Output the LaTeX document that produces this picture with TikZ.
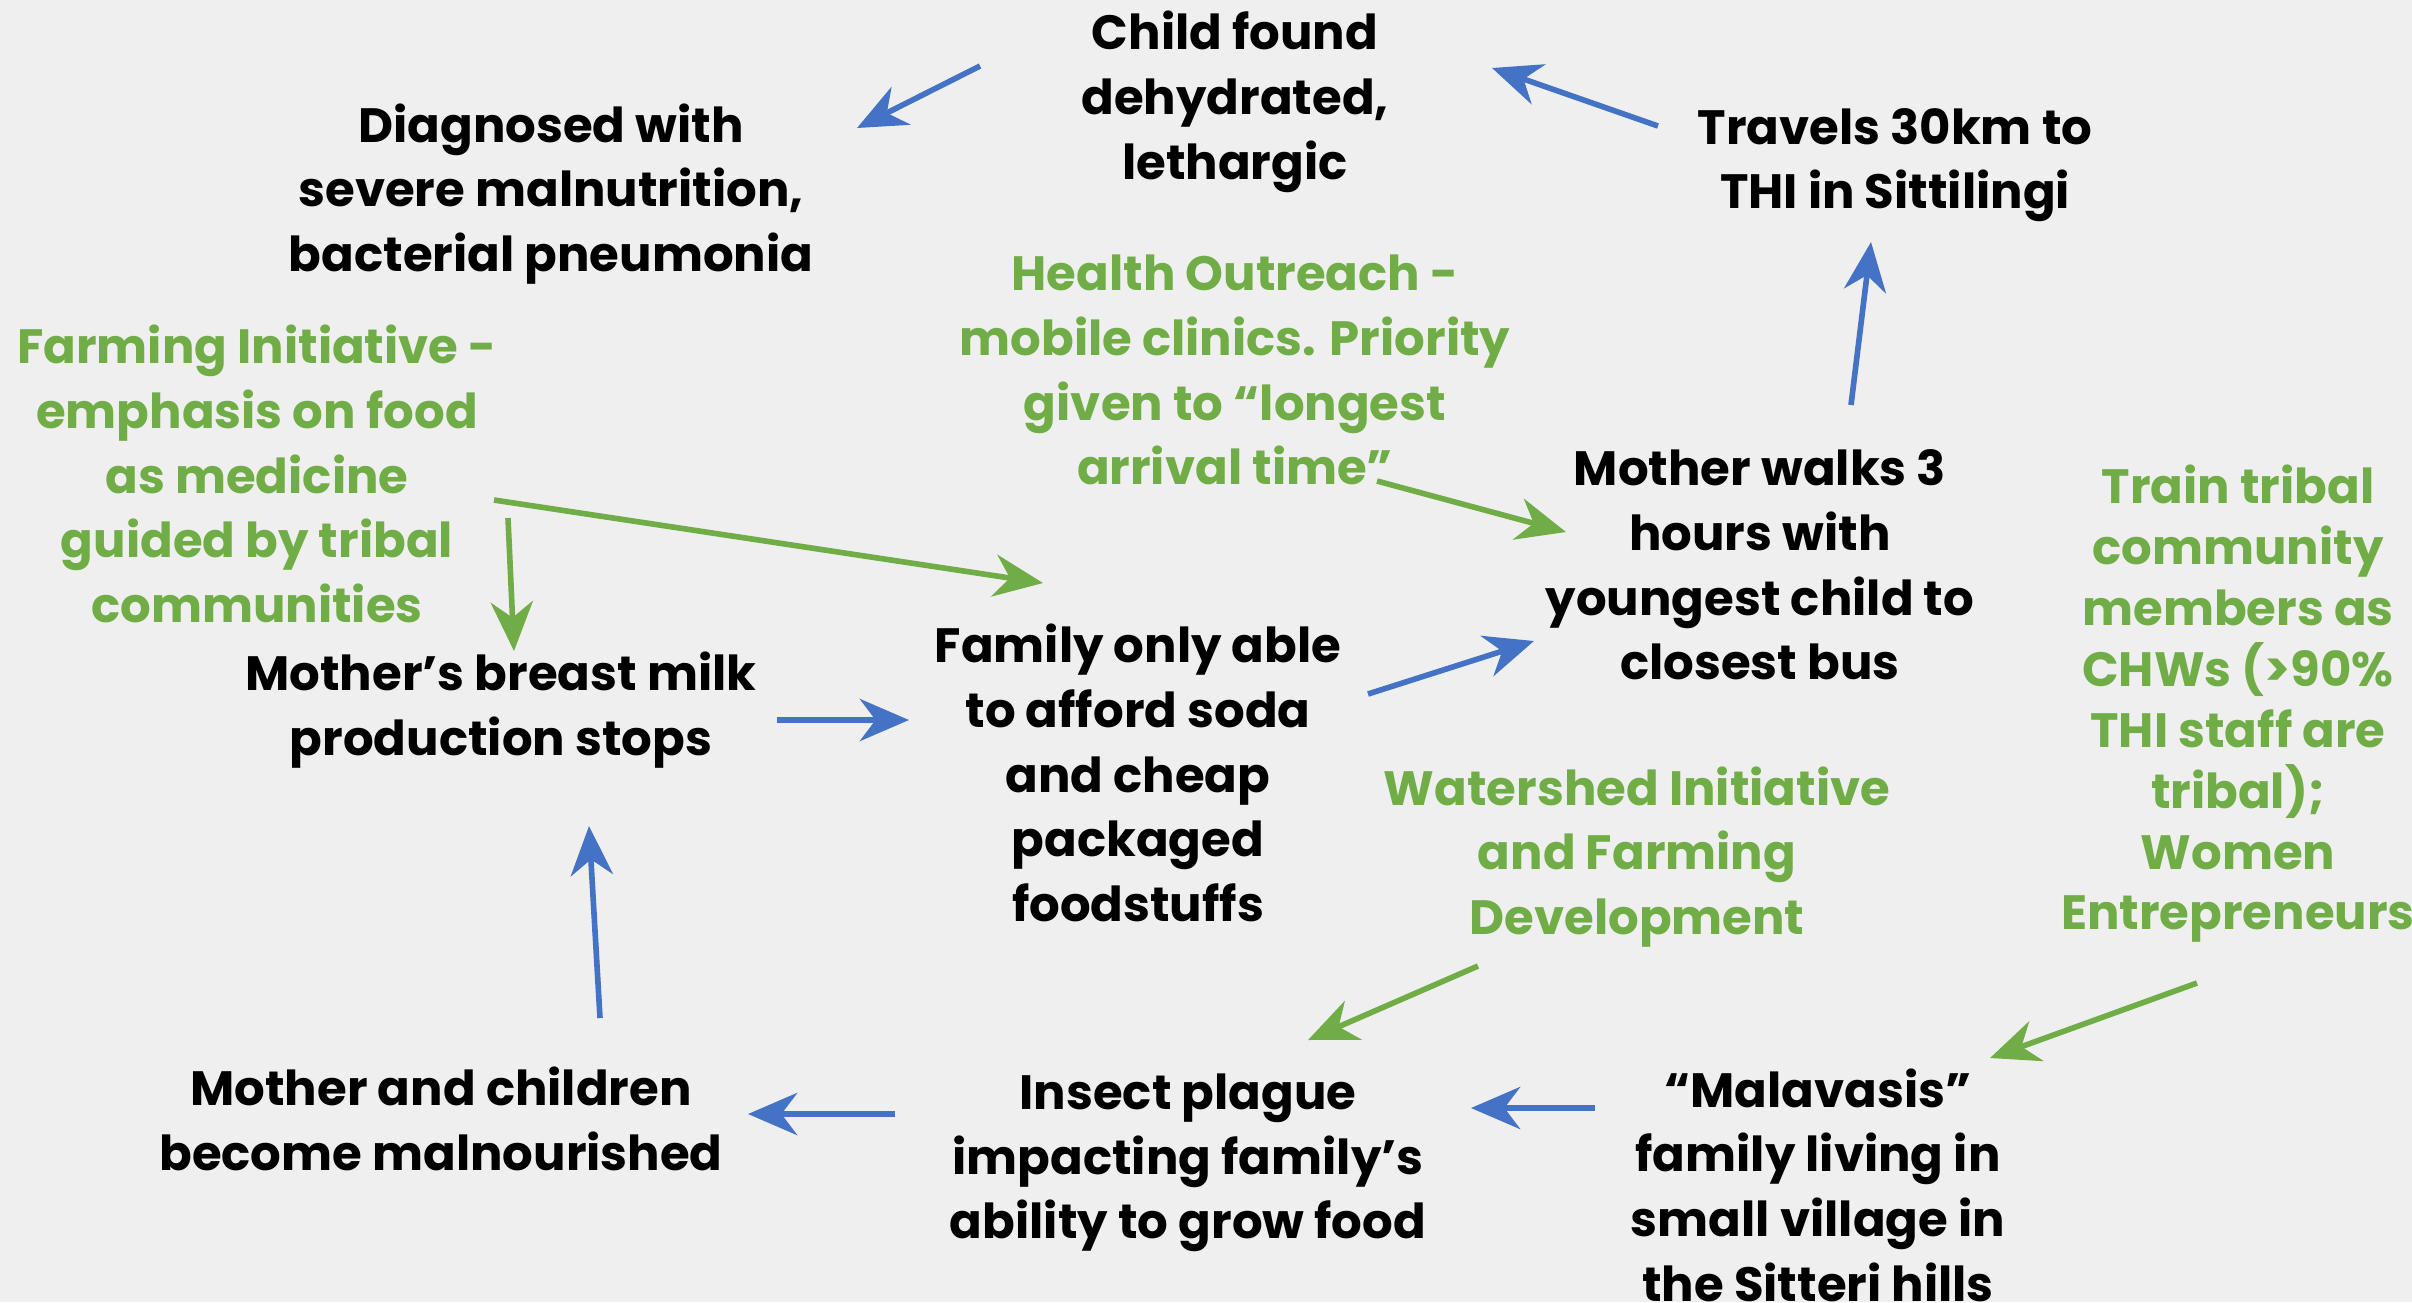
\documentclass[tikz,border=0pt]{standalone}
\usepackage{fontspec}
\setmainfont{Poppins}
\usetikzlibrary{arrows.meta}
\definecolor{bg}{HTML}{EFEFEF}
\definecolor{blu}{HTML}{4472C4}
\definecolor{grn}{HTML}{70AD47}
\tikzset{
  txt/.style={align=center, inner sep=0pt, yshift=-0.05cm, font=\bfseries\fontsize{13.7}{18.4}\selectfont},
  gtxt/.style={txt, text=grn},
  flow/.style={draw=blu, line width=1.6pt, -{Stealth[length=14pt,width=12pt,inset=4.5pt]}},
  gflow/.style={flow, draw=grn}
}
\begin{document}
\begin{tikzpicture}[x=0.01cm,y=-0.01cm]
\fill[bg] (0,0) rectangle (2412,1302);
\useasboundingbox (0,0) rectangle (2412,1302);
% story nodes
\node[txt] (child) at (1235,97) {Child found\\dehydrated,\\lethargic};
\node[txt] (diag) at (551,189) {Diagnosed with\\severe malnutrition,\\bacterial pneumonia};
\node[txt] (travel) at (1895,160) {Travels 30km to\\THI in Sittilingi};
\node[txt] (walk) at (1760,560) {Mother walks 3\\hours with\\youngest child to\\closest bus};
\node[txt] (milk) at (501,705) {Mother’s breast milk\\production stops};
\node[txt] (family) at (1138,768) {Family only able\\to afford soda\\and cheap\\packaged\\foodstuffs};
\node[txt] (malnour) at (441,1114) {Mother and children\\become malnourished};
\node[txt] (insect) at (1188,1158) {Insect plague\\impacting family’s\\ability to grow food};
\node[txt] (mala) at (1818,1180) {“Malavasis”\\family living in\\small village in\\the Sitteri hills};
% interventions
\node[gtxt] (health) at (1235,365) {Health Outreach -\\mobile clinics. Priority\\given to “longest\\arrival time”};
\node[gtxt] (farm) at (257,469) {Farming Initiative -\\emphasis on food\\as medicine\\guided by tribal\\communities};
\node[gtxt] (water) at (1637,852) {Watershed Initiative\\and Farming\\Development};
\node[gtxt, font=\bfseries\fontsize{13.7}{17.3}\selectfont] (train) at (2238,699) {Train tribal\\community\\members as\\CHWs (>90\%\\THI staff are\\tribal);\\Women\\Entrepreneurs};
% arrow ends
\coordinate (childout) at (980,66);
\coordinate (diagin) at (857,128);
\coordinate (travelout) at (1658,126);
\coordinate (childin) at (1492,68);
\coordinate (walkout) at (1851,405);
\coordinate (travelin) at (1871,242);
\coordinate (familyout) at (1368,694);
\coordinate (walkin) at (1534,641);
\coordinate (milkout) at (777,720);
\coordinate (familyin) at (909,720);
\coordinate (malnourout) at (600,1018);
\coordinate (milkin) at (589,826);
\coordinate (insectout) at (895,1114);
\coordinate (malnourin) at (748,1114);
\coordinate (malaout) at (1595,1108);
\coordinate (insectin) at (1471,1108);
\coordinate (farmout) at (494,500);
\coordinate (farmfam) at (1043,583);
\coordinate (farmdown) at (508,518);
\coordinate (farmmilk) at (514,651);
\coordinate (healthout) at (1377,481);
\coordinate (healthwalk) at (1566,532);
\coordinate (waterout) at (1478,966);
\coordinate (waterin) at (1308,1040);
\coordinate (trainout) at (2197,983);
\coordinate (trainin) at (1990,1058);
% story arrows
\draw[flow] (childout) -- (diagin);
\draw[flow] (travelout) -- (childin);
\draw[flow] (walkout) -- (travelin);
\draw[flow] (familyout) -- (walkin);
\draw[flow] (milkout) -- (familyin);
\draw[flow] (malnourout) -- (milkin);
\draw[flow] (insectout) -- (malnourin);
\draw[flow] (malaout) -- (insectin);
% intervention arrows
\draw[gflow] (farmout) -- (farmfam);
\draw[gflow] (farmdown) -- (farmmilk);
\draw[gflow] (healthout) -- (healthwalk);
\draw[gflow] (waterout) -- (waterin);
\draw[gflow] (trainout) -- (trainin);
\end{tikzpicture}
\end{document}
